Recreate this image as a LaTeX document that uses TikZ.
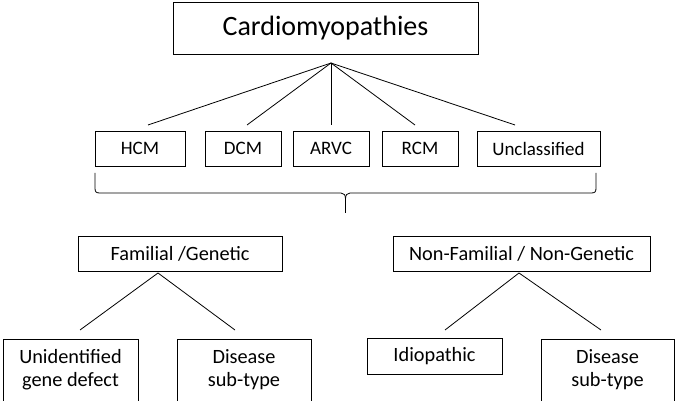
\documentclass[tikz,border=0pt]{standalone}
\usepackage{fontspec}
\setmainfont{Carlito}
\begin{document}
\begin{tikzpicture}[x=1pt,y=-1pt,
  box/.style={draw,line width=0.9pt,inner sep=0pt,align=center,font=\fontsize{19}{22}\selectfont},
  midbox/.style={box,font=\fontsize{20.3}{23}\selectfont},
  ln/.style={line width=0.8pt}]
\useasboundingbox (0,0) rectangle (678,401);
\node[box,minimum width=305pt,minimum height=52pt,font=\fontsize{28}{32}\selectfont] (top) at (325.5,28) {Cardiomyopathies};
\coordinate (apex) at (331,63);
\node[box,minimum width=90pt,minimum height=35pt] (hcm) at (140,148.5) {HCM};
\node[box,minimum width=76pt,minimum height=35pt] (dcm) at (243,148.5) {DCM};
\node[box,minimum width=76pt,minimum height=35pt] (arvc) at (331,148.5) {ARVC};
\node[box,minimum width=76pt,minimum height=35pt] (rcm) at (420,148.5) {RCM};
\node[box,minimum width=123pt,minimum height=35pt] (unc) at (538.5,148.5) {Unclassified};
\coordinate (e1) at (148,125);
\coordinate (e2) at (247,125);
\coordinate (e3) at (331,125);
\coordinate (e4) at (415,125);
\coordinate (e5) at (515,125);
\foreach \e in {e1,e2,e3,e4,e5} \draw[ln] (apex) -- (\e);
% brace
\coordinate (bl) at (95,173);
\coordinate (br) at (596,173);
\coordinate (bt) at (345.5,213);
\draw[ln] (bl) -- (95,188) .. controls (95,192) and (96,193) .. (100,193) -- (341,193)
  .. controls (344,193) and (345.5,195) .. (345.5,199) -- (bt);
\draw[ln] (br) -- (596,188) .. controls (596,192) and (595,193) .. (591,193) -- (350,193)
  .. controls (347,193) and (345.5,195) .. (345.5,199);
\node[midbox,minimum width=204pt,minimum height=35pt] (fam) at (180,253.5) {Familial /Genetic};
\node[midbox,minimum width=257pt,minimum height=35pt] (nonfam) at (521.5,253.5) {Non-Familial / Non-Genetic};
\coordinate (fa) at (158,273);
\coordinate (na) at (519,273);
\coordinate (f1) at (80,330);
\coordinate (f2) at (235,330);
\coordinate (n1) at (445,330);
\coordinate (n2) at (601,330);
\draw[ln] (f1) -- (fa) -- (f2);
\draw[ln] (n1) -- (na) -- (n2);
\node[midbox,minimum width=135pt,minimum height=62pt] (unid) at (70.5,370) {Unidentified\\gene defect};
\node[midbox,minimum width=134pt,minimum height=62pt] (dis1) at (244,370) {Disease\\sub-type};
\node[midbox,minimum width=135pt,minimum height=36pt] (idio) at (434.5,356) {Idiopathic};
\node[midbox,minimum width=133pt,minimum height=62pt] (dis2) at (607.5,370) {Disease\\sub-type};
\end{tikzpicture}
\end{document}
